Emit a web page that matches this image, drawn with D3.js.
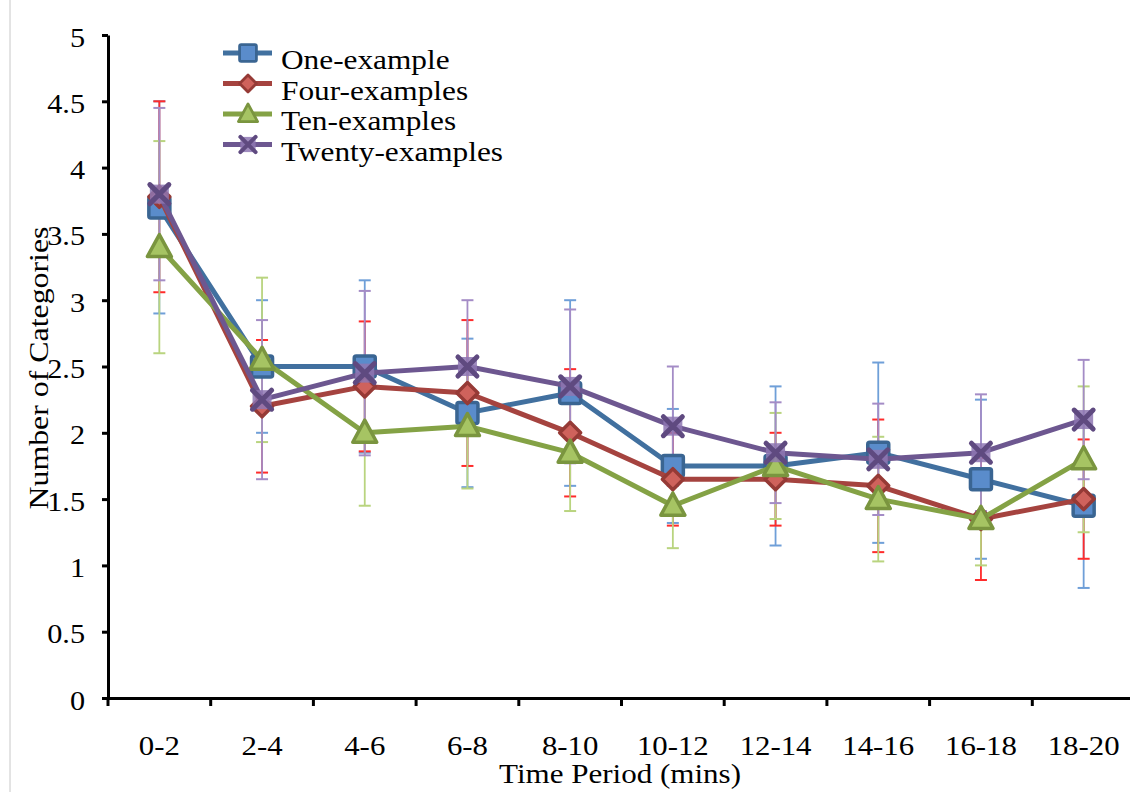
<!DOCTYPE html>
<html>
<head>
<meta charset="utf-8">
<script src="https://cdn.jsdelivr.net/npm/d3@7"></script>
<style>
  html, body { margin: 0; padding: 0; background: #fff; }
  svg { display: block; }
  text { font-family: "Liberation Serif", "Times New Roman", serif; fill: #000; }
</style>
</head>
<body>
<div id="chart"></div>
<script>
const categories = ["0-2", "2-4", "4-6", "6-8", "8-10", "10-12", "12-14", "14-16", "16-18", "18-20"];
const seriesNames = ["One-example", "Four-examples", "Ten-examples", "Twenty-examples"];
const oneValues    = [3.7, 2.5, 2.5, 2.15, 2.3, 1.75, 1.75, 1.85, 1.65, 1.45];
const oneErrors    = [0.8, 0.5, 0.65, 0.56, 0.7, 0.43, 0.6, 0.68, 0.6, 0.62];
const fourValues   = [3.78, 2.2, 2.35, 2.3, 2.0, 1.65, 1.65, 1.6, 1.35, 1.5];
const fourErrors   = [0.72, 0.5, 0.49, 0.55, 0.48, 0.35, 0.35, 0.5, 0.46, 0.45];
const tenValues    = [3.4, 2.55, 2.0, 2.05, 1.85, 1.45, 1.75, 1.5, 1.35, 1.8];
const tenErrors    = [0.8, 0.62, 0.55, 0.47, 0.44, 0.32, 0.4, 0.47, 0.35, 0.55];
const twentyValues = [3.8, 2.25, 2.45, 2.5, 2.35, 2.05, 1.85, 1.8, 1.85, 2.1];
const twentyErrors = [0.65, 0.6, 0.62, 0.5, 0.58, 0.45, 0.38, 0.42, 0.44, 0.45];
const yTicks = [0, 0.5, 1, 1.5, 2, 2.5, 3, 3.5, 4, 4.5, 5];
const xTitle = "Time Period (mins)";
const yTitle = "Number of Categories";

const W = 1130, H = 792;
const svg = d3.select("#chart").append("svg").attr("width", W).attr("height", H);

// left frame line
svg.append("line").attr("x1", 10).attr("x2", 10).attr("y1", 0).attr("y2", H)
  .attr("stroke", "#c8c8c8").attr("stroke-width", 1);

const x = d3.scaleBand().domain(categories).range([108, 1135]).paddingInner(0).paddingOuter(0);
const y = d3.scaleLinear().domain([0, 5]).range([698, 35]);
const cx = c => x(c) + x.bandwidth() / 2;

const styles = [
  { line: "#41709f", fill: "#5a8ccb", stroke: "#3a6592", err: "#6f9fd8", shape: "square" },
  { line: "#a5433f", fill: "#cf625c", stroke: "#963a36", err: "#ff2b2b", shape: "diamond" },
  { line: "#84a245", fill: "#a6c463", stroke: "#7a953f", err: "#b9d47f", shape: "triangle" },
  { line: "#6d5790", fill: "#8e77b3", stroke: "#5f4a80", err: "#a48cc6", shape: "x" }
];
const valueSets = [oneValues, fourValues, tenValues, twentyValues];
const errorSets = [oneErrors, fourErrors, tenErrors, twentyErrors];
const series = seriesNames.map((name, i) => ({
  name, style: styles[i],
  points: categories.map((c, j) => ({ c, v: valueSets[i][j], e: errorSets[i][j] }))
}));

// Axes
const yAxis = d3.axisLeft(y).tickValues(yTicks).tickSize(6).tickSizeOuter(0).tickFormat(d3.format(""));
const gy = svg.append("g").attr("transform", "translate(108,0)").call(yAxis);
gy.attr("font-family", null);
gy.select(".domain").attr("stroke", "#000").attr("stroke-width", 3);
gy.selectAll(".tick line").attr("stroke", "#000").attr("stroke-width", 3);
gy.selectAll(".tick text")
  .attr("x", null).attr("dy", null)
  .attr("transform", "translate(-23,11) scale(1.08,1)")
  .attr("text-anchor", "end")
  .style("font-size", "28px")
  .style("font-family", "'Liberation Serif', serif");

const xAxis = d3.axisBottom(x).tickSize(0).tickSizeOuter(0);
const gx = svg.append("g").attr("transform", "translate(0,698)").call(xAxis);
gx.attr("font-family", null);
gx.select(".domain").attr("stroke", "#000").attr("stroke-width", 3);
gx.selectAll(".tick text")
  .attr("y", null).attr("dy", null)
  .attr("transform", "translate(0,57) scale(1.1,1)")
  .attr("text-anchor", "middle")
  .style("font-size", "28px")
  .style("font-family", "'Liberation Serif', serif");
// boundary ticks
const bounds = categories.map(c => x(c)).concat([x.range()[1]]);
svg.append("g").selectAll("line").data(bounds).join("line")
  .attr("x1", d => d).attr("x2", d => d).attr("y1", 698).attr("y2", 706)
  .attr("stroke", "#000").attr("stroke-width", 3);

// Titles
svg.append("text").attr("transform", "translate(620,783) scale(1.15,1)")
  .attr("text-anchor", "middle").style("font-size", "27px").text(xTitle);
svg.append("text").attr("transform", "translate(48,368) rotate(-90) scale(1.18,1)")
  .attr("text-anchor", "middle").style("font-size", "27px").text(yTitle);

// Error bars (beneath lines/markers)
const cap = 6;
series.forEach(s => {
  const g = svg.append("g");
  g.selectAll("line.v").data(s.points).join("line")
    .attr("x1", d => cx(d.c)).attr("x2", d => cx(d.c))
    .attr("y1", d => y(d.v + d.e)).attr("y2", d => y(d.v - d.e))
    .attr("stroke", s.style.err).attr("stroke-width", 1.8);
  g.selectAll("line.t").data(s.points).join("line")
    .attr("x1", d => cx(d.c) - cap).attr("x2", d => cx(d.c) + cap)
    .attr("y1", d => y(d.v + d.e)).attr("y2", d => y(d.v + d.e))
    .attr("stroke", s.style.err).attr("stroke-width", 2);
  g.selectAll("line.b").data(s.points).join("line")
    .attr("x1", d => cx(d.c) - cap).attr("x2", d => cx(d.c) + cap)
    .attr("y1", d => y(d.v - d.e)).attr("y2", d => y(d.v - d.e))
    .attr("stroke", s.style.err).attr("stroke-width", 2);
});

function drawMarker(g, shape, st, px, py, k) {
  if (shape === "square") {
    const a = 21 * k;
    g.append("rect").attr("x", px - a / 2).attr("y", py - a / 2).attr("width", a).attr("height", a)
      .attr("rx", 2 * k).attr("fill", st.fill).attr("stroke", st.stroke).attr("stroke-width", 3.5 * k);
  } else if (shape === "diamond") {
    const r = 10.5 * k;
    g.append("path").attr("d", `M${px},${py - r}L${px + r},${py}L${px},${py + r}L${px - r},${py}Z`)
      .attr("fill", st.fill).attr("stroke", st.stroke).attr("stroke-width", 3.5 * k).attr("stroke-linejoin", "round");
  } else if (shape === "triangle") {
    const w = 12 * k, h = 21 * k;
    g.append("path").attr("d", `M${px},${py - h * 0.6}L${px + w},${py + h * 0.45}L${px - w},${py + h * 0.45}Z`)
      .attr("fill", st.fill).attr("stroke", st.stroke).attr("stroke-width", 3.5 * k).attr("stroke-linejoin", "round");
  } else {
    const a = 9.5 * k;
    g.append("rect").attr("x", px - a).attr("y", py - a).attr("width", 2 * a).attr("height", 2 * a)
      .attr("fill", st.fill).attr("opacity", 0.85);
    g.append("path").attr("d", `M${px - a},${py - a}L${px + a},${py + a}M${px - a},${py + a}L${px + a},${py - a}`)
      .attr("stroke", st.stroke).attr("stroke-width", 5 * k).attr("stroke-linecap", "round");
  }
}

// Lines & markers
const lineGen = d3.line().x(d => cx(d.c)).y(d => y(d.v));
series.forEach(s => {
  const g = svg.append("g");
  g.append("path").datum(s.points).attr("d", lineGen)
    .attr("fill", "none").attr("stroke", s.style.line).attr("stroke-width", 5).attr("stroke-linejoin", "round");
  s.points.forEach(d => drawMarker(g, s.style.shape, s.style, cx(d.c), y(d.v), 1));
});

// Legend
const lg = svg.append("g");
series.forEach((s, i) => {
  const ry = 53 + i * 30.5;
  const g = lg.append("g");
  g.append("line").attr("x1", 223).attr("x2", 272).attr("y1", ry).attr("y2", ry)
    .attr("stroke", s.style.line).attr("stroke-width", 5);
  drawMarker(g, s.style.shape, s.style, 248, ry, 0.8);
  g.append("text").attr("transform", `translate(281,${ry + 16}) scale(1.16,1)`)
    .style("font-size", "27px").text(s.name);
});
</script>
</body>
</html>
